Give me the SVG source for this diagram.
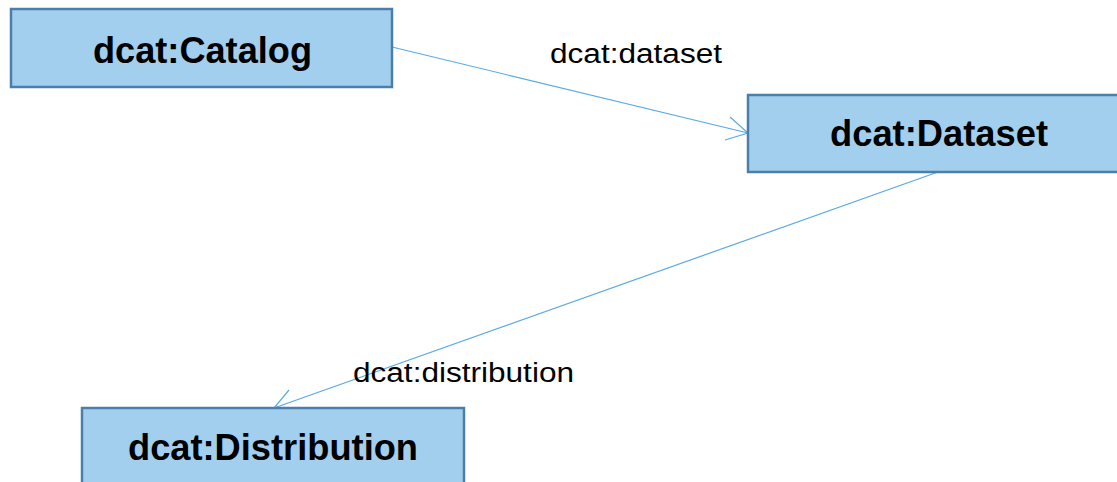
<svg xmlns="http://www.w3.org/2000/svg" width="1117" height="482" viewBox="0 0 1117 482">
  <style>
    .box { fill: #a3cfee; stroke: #4a7fac; stroke-width: 2.5; }
    .title { font-family: "Liberation Sans", Arial, sans-serif; font-weight: bold; font-size: 36px; fill: #000; text-anchor: middle; }
    .edge { fill: none; stroke: #5aaae2; stroke-width: 1.2; }
    .label { font-family: "Liberation Sans", Arial, sans-serif; font-size: 27px; fill: #000; }
  </style>
  <rect width="1117" height="482" fill="#ffffff"/>

  <g id="connectors">
    <!-- dcat:Catalog -> dcat:Dataset -->
    <g id="edge-dataset">
      <line class="edge" x1="392" y1="47" x2="748" y2="133"/>
      <polyline class="edge" points="730,117 748,133 725,140"/>
      <text class="label" x="550" y="63" textLength="172" lengthAdjust="spacingAndGlyphs">dcat:dataset</text>
    </g>
    <!-- dcat:Dataset -> dcat:Distribution -->
    <g id="edge-distribution">
      <line class="edge" x1="938" y1="172" x2="274" y2="408"/>
      <polyline class="edge" points="289,390 274,408 298,411"/>
      <text class="label" x="353" y="382" textLength="221" lengthAdjust="spacingAndGlyphs">dcat:distribution</text>
    </g>
  </g>

  <g id="catalog">
    <rect class="box" x="11" y="9" width="381" height="78"/>
    <text class="title" x="202.5" y="63" textLength="219" lengthAdjust="spacingAndGlyphs">dcat:Catalog</text>
  </g>

  <g id="dataset">
    <rect class="box" x="748" y="95" width="382" height="77"/>
    <text class="title" x="939" y="146" textLength="218" lengthAdjust="spacingAndGlyphs">dcat:Dataset</text>
  </g>

  <g id="distribution">
    <rect class="box" x="82" y="408" width="382" height="90"/>
    <text class="title" x="273" y="460" textLength="290" lengthAdjust="spacingAndGlyphs">dcat:Distribution</text>
  </g>
</svg>
